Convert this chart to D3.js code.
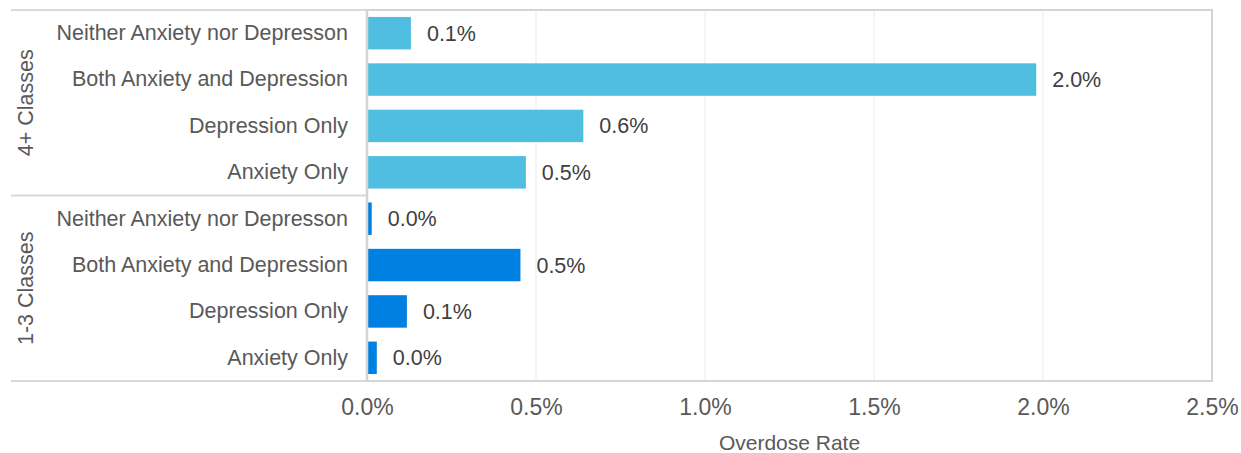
<!DOCTYPE html>
<html lang="en">
<head>
<meta charset="utf-8">
<title>Overdose Rate</title>
<script src="https://cdn.jsdelivr.net/npm/d3@7"></script>
<style>
  body { margin: 0; background: #fff; }
  text { font-family: "Liberation Sans", Arial, sans-serif; }
</style>
</head>
<body>
<script>
// data
var groups = ["4+ Classes", "1-3 Classes"];
var categories = ["Neither Anxiety nor Depresson", "Both Anxiety and Depression", "Depression Only", "Anxiety Only"];
var rates4plus = [0.13, 1.98, 0.64, 0.47];
var rates1to3 = [0.014, 0.454, 0.118, 0.029];
var groupColors = ["#50bee1", "#0080e0"];
var xTicks = [0, 0.5, 1, 1.5, 2, 2.5];

var w = 1241, h = 453;
var plotLeft = 367, plotRight = 1212, plotTop = 10, plotBottom = 381;

var rows = [];
groups.forEach(function(g, gi) {
  var vals = gi == 0 ? rates4plus : rates1to3;
  categories.forEach(function(c, ci) {
    rows.push({ key: g + "|" + c, group: g, gi: gi, cat: c, value: vals[ci] });
  });
});

var svg = d3.select("body").append("svg")
  .attr("width", w)
  .attr("height", h);

var xScale = d3.scaleLinear().domain([0, 2.5]).range([plotLeft, plotRight]);
var yScale = d3.scaleBand()
  .domain(rows.map(function(d) { return d.key; }))
  .range([plotTop, plotBottom])
  .paddingInner(0.3)
  .paddingOuter(0.15);

// gridlines
svg.append("g")
  .selectAll("line")
  .data(xTicks.slice(1, -1))
  .enter()
  .append("line")
  .attr("x1", function(d) { return xScale(d); })
  .attr("x2", function(d) { return xScale(d); })
  .attr("y1", plotTop)
  .attr("y2", plotBottom)
  .attr("stroke", "#ebebeb")
  .attr("stroke-width", 1);

// plot frame
svg.append("rect")
  .attr("x", plotLeft)
  .attr("y", plotTop)
  .attr("width", plotRight - plotLeft)
  .attr("height", plotBottom - plotTop)
  .attr("fill", "none")
  .attr("stroke", "#d4d4d4")
  .attr("stroke-width", 2);

// group separators on the left
var sepY = [plotTop, (plotTop + plotBottom) / 2, plotBottom];
svg.append("g")
  .selectAll("line")
  .data(sepY)
  .enter()
  .append("line")
  .attr("x1", 11)
  .attr("x2", plotLeft)
  .attr("y1", function(d) { return d; })
  .attr("y2", function(d) { return d; })
  .attr("stroke", "#d9d9d9")
  .attr("stroke-width", 2);

// bars
svg.append("g")
  .selectAll("rect")
  .data(rows)
  .enter()
  .append("rect")
  .attr("x", xScale(0))
  .attr("y", function(d) { return yScale(d.key); })
  .attr("width", function(d) { return xScale(d.value) - xScale(0); })
  .attr("height", yScale.bandwidth())
  .attr("fill", function(d) { return groupColors[d.gi]; });

// value labels
svg.append("g")
  .selectAll("text")
  .data(rows)
  .enter()
  .append("text")
  .attr("x", function(d) { return xScale(d.value) + 16; })
  .attr("y", function(d) { return yScale(d.key) + yScale.bandwidth() / 2; })
  .attr("dy", "0.35em")
  .attr("fill", "#404040")
  .style("font-size", "21.5px")
  .text(function(d) { return d3.format(".1f")(d.value) + "%"; });

// category labels
var yAxis = d3.axisLeft(yScale)
  .tickSize(0)
  .tickPadding(19)
  .tickFormat(function(k) { return k.split("|")[1]; });
var ya = svg.append("g")
  .attr("transform", "translate(" + plotLeft + ",0)")
  .call(yAxis);
ya.select(".domain").remove();
ya.selectAll("text")
  .attr("fill", "#595959")
  .style("font-size", "21.5px")
  .style("font-family", "'Liberation Sans', Arial, sans-serif");

// group labels
groups.forEach(function(g, gi) {
  var cy = plotTop + (plotBottom - plotTop) / 4 * (gi * 2 + 1);
  svg.append("text")
    .attr("transform", "translate(33," + cy + ") rotate(-90)")
    .attr("text-anchor", "middle")
    .attr("fill", "#595959")
    .style("font-size", "21.5px")
    .text(g);
});

// left axis line
svg.append("line")
  .attr("x1", plotLeft)
  .attr("x2", plotLeft)
  .attr("y1", plotTop)
  .attr("y2", plotBottom)
  .attr("stroke", "#d4d4d4")
  .attr("stroke-width", 2.5);

// x axis
var xAxis = d3.axisBottom(xScale)
  .tickValues(xTicks)
  .tickSize(0)
  .tickPadding(18)
  .tickFormat(function(d) { return d3.format(".1f")(d) + "%"; });
var xa = svg.append("g")
  .attr("transform", "translate(0," + plotBottom + ")")
  .call(xAxis);
xa.select(".domain").remove();
xa.selectAll("text")
  .attr("fill", "#595959")
  .style("font-size", "23px")
  .style("font-family", "'Liberation Sans', Arial, sans-serif");

// axis title
svg.append("text")
  .attr("x", (plotLeft + plotRight) / 2)
  .attr("y", 450)
  .attr("text-anchor", "middle")
  .attr("fill", "#595959")
  .style("font-size", "21px")
  .text("Overdose Rate");
</script>
</body>
</html>
